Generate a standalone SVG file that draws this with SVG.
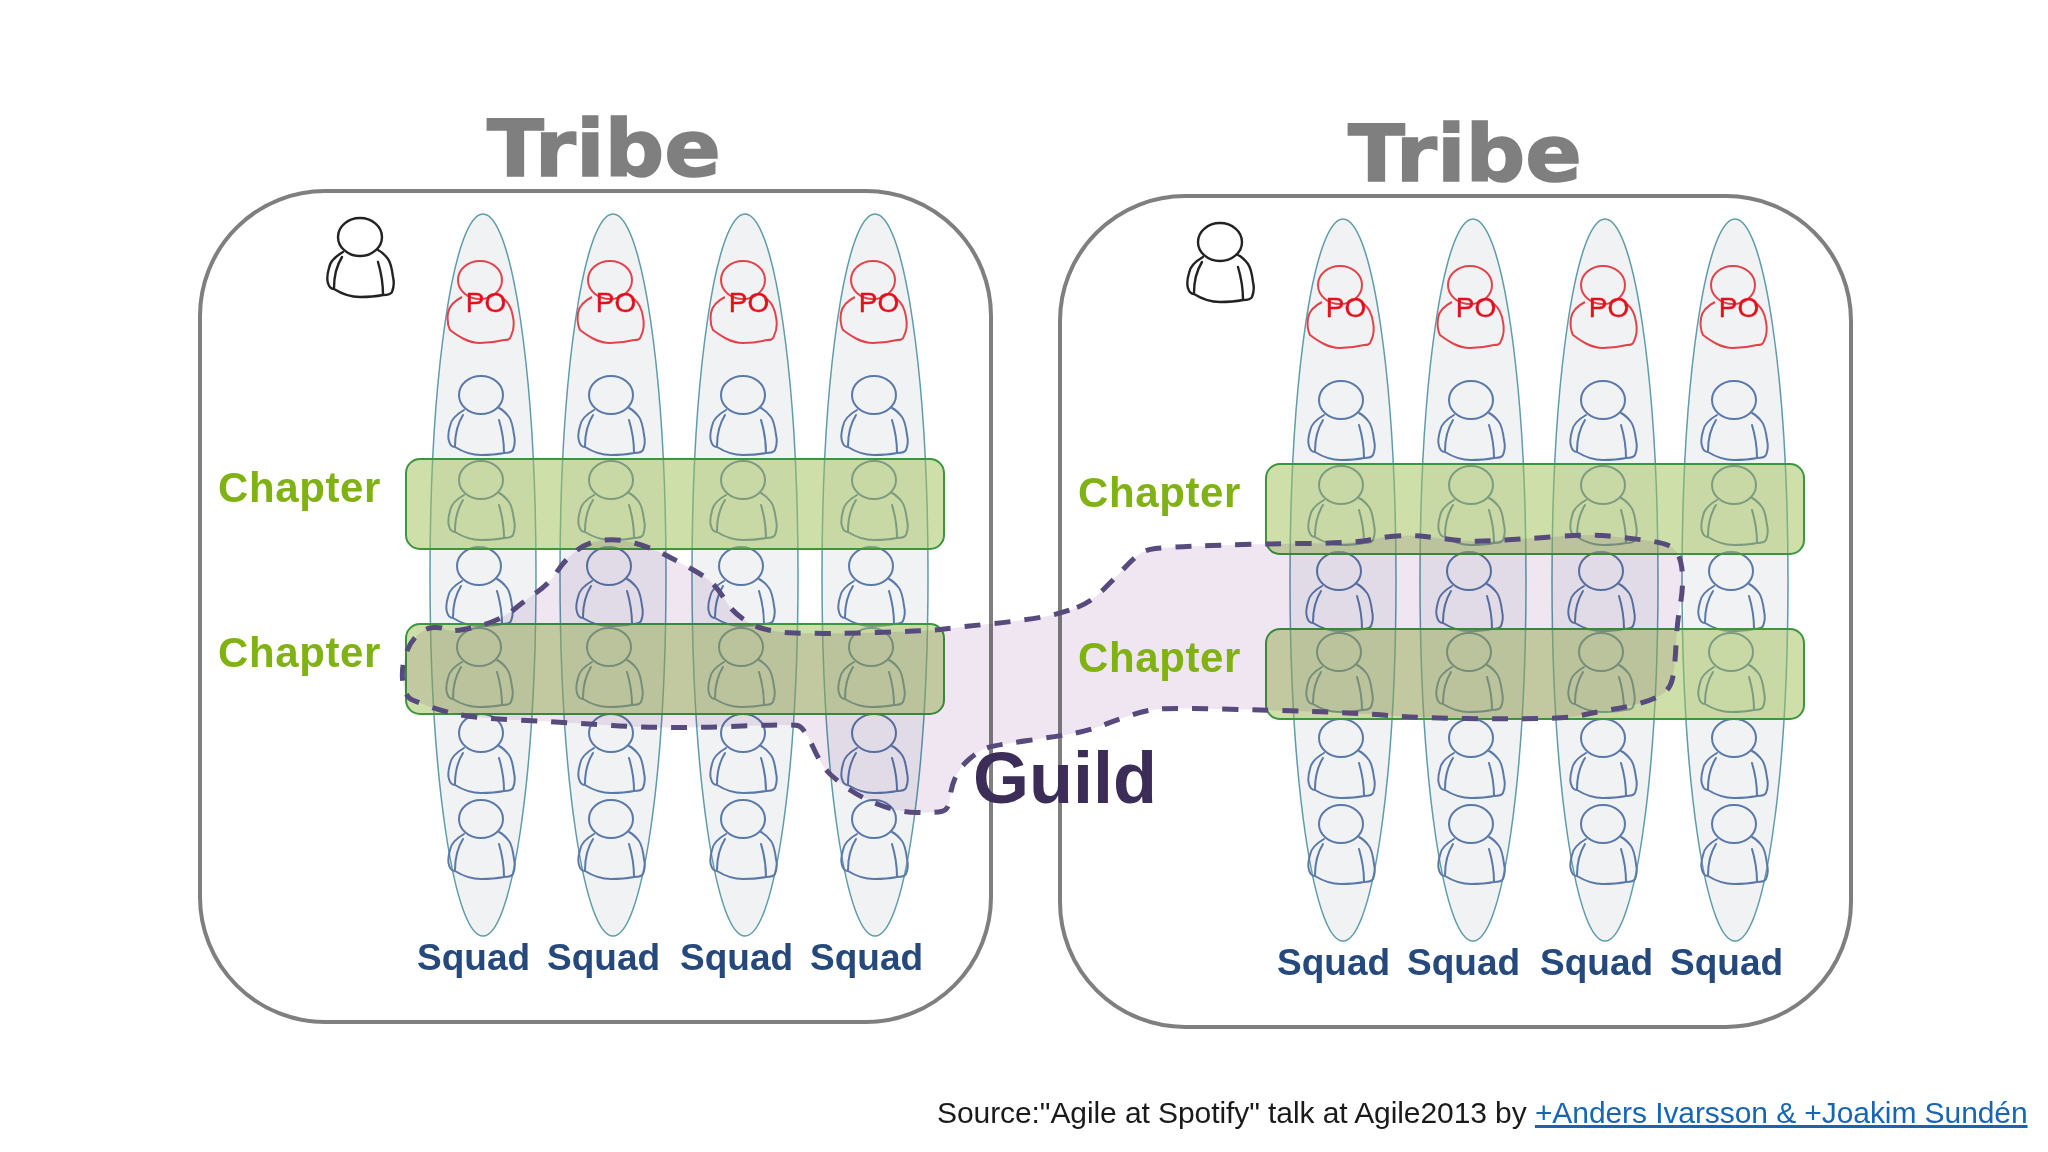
<svg xmlns="http://www.w3.org/2000/svg" width="2048" height="1152" viewBox="0 0 2048 1152">
<style>
text{font-family:"Liberation Sans",Arial,sans-serif}
.panel{fill:none;stroke:#7f7f7f;stroke-width:4}
.squad{fill:#f0f2f4;stroke:#5f9caa;stroke-width:1.5}
.bar{fill:#9fc055;fill-opacity:.5;stroke:#3c963c;stroke-width:2}
.tribe{font-family:"DejaVu Sans",sans-serif;font-weight:700;font-size:78px;fill:#7f7f7f;stroke:#7f7f7f;stroke-width:1.5}
.chapter{font-weight:700;font-size:42px;letter-spacing:.6px;fill:#80b213}
.sq{font-weight:700;font-size:37px;fill:#25497c}
.po{font-size:28px;fill:#e2101c;stroke:#e2101c;stroke-width:.4}
.pb{fill:none;stroke:#5a78a8;stroke-width:2;stroke-linejoin:round;stroke-linecap:round}
.pr{fill:none;stroke:#e2434a;stroke-width:2}
.pk{fill:none;stroke:#222;stroke-width:2.4;stroke-linejoin:round;stroke-linecap:round}
</style>
<defs>
<g id="p">
<ellipse cx="0" cy="0" rx="22" ry="19"/>
<path d="M-17,15C-24,19 -30,24 -31,31C-33,38 -33,43 -32,46C-31,50 -29,52 -26,52C-18,57 -8,60 0,60C10,60 18,59 23,58C28,58 31,57 32,55C34,50 34,44 33,40C32,32 31,26 28,22C25,18 22,15 18,13M-18,20C-23,28 -26,38 -26,51M18,25C21,35 23,46 23,58"/>
</g>
<g id="o">
<ellipse cx="0" cy="0" rx="22" ry="19"/>
<path d="M-18,17C-26,21 -31,27 -32,33C-33,40 -32,46 -30,50C-22,56 -12,63 0,63C10,63 20,61 24,60C27,60 30,60 31,56C34,50 34,42 33,37C32,30 30,24 24,19"/>
</g>
</defs>
<rect width="2048" height="1152" fill="#fff"/>

<g id="tribe-left">
<rect class="panel" x="200" y="191" width="791" height="831" rx="125"/>
<text class="tribe" x="487" y="176" textLength="234" lengthAdjust="spacingAndGlyphs">Tribe</text>
</g>
<g id="tribe-right">
<rect class="panel" x="1060" y="196" width="791" height="831" rx="125"/>
<text class="tribe" x="1348" y="181" textLength="234" lengthAdjust="spacingAndGlyphs">Tribe</text>
</g>

<g id="squads-left">
<ellipse class="squad" cx="483" cy="575" rx="53" ry="361"/>
<ellipse class="squad" cx="613" cy="575" rx="53" ry="361"/>
<ellipse class="squad" cx="745" cy="575" rx="53" ry="361"/>
<ellipse class="squad" cx="875" cy="575" rx="53" ry="361"/>
</g>
<g id="squads-right">
<ellipse class="squad" cx="1343" cy="580" rx="53" ry="361"/>
<ellipse class="squad" cx="1473" cy="580" rx="53" ry="361"/>
<ellipse class="squad" cx="1605" cy="580" rx="53" ry="361"/>
<ellipse class="squad" cx="1735" cy="580" rx="53" ry="361"/>
</g>

<g id="lead-left" class="pk"><use href="#p" x="360" y="237"/></g>
<g id="lead-right" class="pk"><use href="#p" x="1220" y="242"/></g>

<g id="po-left" class="pr">
<use href="#o" x="480" y="280"/><use href="#o" x="610" y="280"/><use href="#o" x="743" y="280"/><use href="#o" x="873" y="280"/>
</g>
<g id="po-right" class="pr">
<use href="#o" x="1340" y="285"/><use href="#o" x="1470" y="285"/><use href="#o" x="1603" y="285"/><use href="#o" x="1733" y="285"/>
</g>
<g id="po-labels">
<text class="po" x="486" y="312" text-anchor="middle">PO</text>
<text class="po" x="616" y="312" text-anchor="middle">PO</text>
<text class="po" x="749" y="312" text-anchor="middle">PO</text>
<text class="po" x="879" y="312" text-anchor="middle">PO</text>
<text class="po" x="1346" y="317" text-anchor="middle">PO</text>
<text class="po" x="1476" y="317" text-anchor="middle">PO</text>
<text class="po" x="1609" y="317" text-anchor="middle">PO</text>
<text class="po" x="1739" y="317" text-anchor="middle">PO</text>
</g>

<g id="members-left" class="pb">
<use href="#p" x="481" y="395"/><use href="#p" x="611" y="395"/><use href="#p" x="743" y="395"/><use href="#p" x="874" y="395"/>
<use href="#p" x="481" y="480"/><use href="#p" x="611" y="480"/><use href="#p" x="743" y="480"/><use href="#p" x="874" y="480"/>
<use href="#p" x="479" y="566"/><use href="#p" x="609" y="566"/><use href="#p" x="741" y="566"/><use href="#p" x="871" y="566"/>
<use href="#p" x="479" y="647"/><use href="#p" x="609" y="647"/><use href="#p" x="741" y="647"/><use href="#p" x="871" y="647"/>
<use href="#p" x="481" y="733"/><use href="#p" x="611" y="733"/><use href="#p" x="743" y="733"/><use href="#p" x="874" y="733"/>
<use href="#p" x="481" y="819"/><use href="#p" x="611" y="819"/><use href="#p" x="743" y="819"/><use href="#p" x="874" y="819"/>
</g>
<g id="members-right" class="pb">
<use href="#p" x="1341" y="400"/><use href="#p" x="1471" y="400"/><use href="#p" x="1603" y="400"/><use href="#p" x="1734" y="400"/>
<use href="#p" x="1341" y="485"/><use href="#p" x="1471" y="485"/><use href="#p" x="1603" y="485"/><use href="#p" x="1734" y="485"/>
<use href="#p" x="1339" y="571"/><use href="#p" x="1469" y="571"/><use href="#p" x="1601" y="571"/><use href="#p" x="1731" y="571"/>
<use href="#p" x="1339" y="652"/><use href="#p" x="1469" y="652"/><use href="#p" x="1601" y="652"/><use href="#p" x="1731" y="652"/>
<use href="#p" x="1341" y="738"/><use href="#p" x="1471" y="738"/><use href="#p" x="1603" y="738"/><use href="#p" x="1734" y="738"/>
<use href="#p" x="1341" y="824"/><use href="#p" x="1471" y="824"/><use href="#p" x="1603" y="824"/><use href="#p" x="1734" y="824"/>
</g>

<g id="chapters">
<rect class="bar" x="406" y="459" width="538" height="90" rx="14"/>
<rect class="bar" x="406" y="624" width="538" height="90" rx="14"/>
<rect class="bar" x="1266" y="464" width="538" height="90" rx="14"/>
<rect class="bar" x="1266" y="629" width="538" height="90" rx="14"/>
</g>

<g id="guild">
<path style="mix-blend-mode:multiply" fill="#efe6f2" stroke="none" d="M1077,607.5Q1091,602 1103.5,589.5Q1116,577 1124,568.5Q1132,560 1138,555Q1144,550 1155.5,548.5Q1167,547 1210.5,545.5Q1254,544 1305,543.5Q1356,543 1369,540Q1382,537 1397,536Q1412,535 1425,536.5Q1438,538 1454.5,540Q1471,542 1497.5,540.5Q1524,539 1557.5,536.5Q1591,534 1609,536Q1627,538 1643.5,540Q1660,542 1667.5,545Q1675,548 1678.5,555.5Q1682,563 1682.5,576.5Q1683,590 1680,606.5Q1677,623 1676,645Q1675,667 1672.5,678.5Q1670,690 1661,695Q1652,700 1639.5,703.5Q1627,707 1611.5,709.5Q1596,712 1583,715Q1570,718 1539.5,718.5Q1509,719 1465.5,718.5Q1422,718 1389,715.5Q1356,713 1312.5,711.5Q1269,710 1220.5,709Q1172,708 1159.5,709Q1147,710 1131.5,715Q1116,720 1103.5,725Q1091,730 1075.5,733Q1060,736 1028,740.5Q996,745 988,747.5Q980,750 970,758.5Q960,767 955.5,777Q951,787 950,798.5Q949,810 941.5,811.5Q934,813 916,812.5Q898,812 880,805Q862,798 851,790.5Q840,783 831,775Q822,767 813,747Q804,727 797.5,725.5Q791,724 728.5,726.5Q666,729 612.5,725.5Q559,722 516.5,720Q474,718 456,714Q438,710 429,706.5Q420,703 412.5,700Q405,697 403,683.5Q401,670 405,656.5Q409,643 417,635.5Q425,628 433.5,627.5Q442,627 445.5,629.5Q449,632 463.5,629.5Q478,627 491.5,622Q505,617 514,609.5Q523,602 536.5,592.5Q550,583 556.5,572.5Q563,562 574,552.5Q585,543 601,540.5Q617,538 634.5,543Q652,548 665.5,555Q679,562 692.5,569.5Q706,577 712.5,583.5Q719,590 726,601.5Q733,613 748.5,622.5Q764,632 795,633Q826,634 877.5,632.5Q929,631 944.5,629Q960,627 993.5,623.5Q1027,620 1045,616.5Q1063,613 1077,607.5Z"/>
<path fill="none" stroke="#574a7c" stroke-width="5" stroke-dasharray="16 14" d="M1077,607.5Q1091,602 1103.5,589.5Q1116,577 1124,568.5Q1132,560 1138,555Q1144,550 1155.5,548.5Q1167,547 1210.5,545.5Q1254,544 1305,543.5Q1356,543 1369,540Q1382,537 1397,536Q1412,535 1425,536.5Q1438,538 1454.5,540Q1471,542 1497.5,540.5Q1524,539 1557.5,536.5Q1591,534 1609,536Q1627,538 1643.5,540Q1660,542 1667.5,545Q1675,548 1678.5,555.5Q1682,563 1682.5,576.5Q1683,590 1680,606.5Q1677,623 1676,645Q1675,667 1672.5,678.5Q1670,690 1661,695Q1652,700 1639.5,703.5Q1627,707 1611.5,709.5Q1596,712 1583,715Q1570,718 1539.5,718.5Q1509,719 1465.5,718.5Q1422,718 1389,715.5Q1356,713 1312.5,711.5Q1269,710 1220.5,709Q1172,708 1159.5,709Q1147,710 1131.5,715Q1116,720 1103.5,725Q1091,730 1075.5,733Q1060,736 1028,740.5Q996,745 988,747.5Q980,750 970,758.5Q960,767 955.5,777Q951,787 950,798.5Q949,810 941.5,811.5Q934,813 916,812.5Q898,812 880,805Q862,798 851,790.5Q840,783 831,775Q822,767 813,747Q804,727 797.5,725.5Q791,724 728.5,726.5Q666,729 612.5,725.5Q559,722 516.5,720Q474,718 456,714Q438,710 429,706.5Q420,703 412.5,700Q405,697 403,683.5Q401,670 405,656.5Q409,643 417,635.5Q425,628 433.5,627.5Q442,627 445.5,629.5Q449,632 463.5,629.5Q478,627 491.5,622Q505,617 514,609.5Q523,602 536.5,592.5Q550,583 556.5,572.5Q563,562 574,552.5Q585,543 601,540.5Q617,538 634.5,543Q652,548 665.5,555Q679,562 692.5,569.5Q706,577 712.5,583.5Q719,590 726,601.5Q733,613 748.5,622.5Q764,632 795,633Q826,634 877.5,632.5Q929,631 944.5,629Q960,627 993.5,623.5Q1027,620 1045,616.5Q1063,613 1077,607.5Z"/>
<text x="973" y="803" font-size="72" font-weight="700" fill="#3b2d58">Guild</text>
</g>

<g id="chapter-labels">
<text class="chapter" x="218" y="502">Chapter</text>
<text class="chapter" x="218" y="667">Chapter</text>
<text class="chapter" x="1078" y="507">Chapter</text>
<text class="chapter" x="1078" y="672">Chapter</text>
</g>
<g id="squad-labels">
<text class="sq" x="417" y="970">Squad</text>
<text class="sq" x="547" y="970">Squad</text>
<text class="sq" x="680" y="970">Squad</text>
<text class="sq" x="810" y="970">Squad</text>
<text class="sq" x="1277" y="975">Squad</text>
<text class="sq" x="1407" y="975">Squad</text>
<text class="sq" x="1540" y="975">Squad</text>
<text class="sq" x="1670" y="975">Squad</text>
</g>
<text id="source" x="937" y="1123" font-size="30" letter-spacing="-.08" fill="#1a1a1a">Source:"Agile at Spotify" talk at Agile2013 by <tspan fill="#1766b5" text-decoration="underline">+Anders Ivarsson &amp; +Joakim Sundén</tspan></text>
</svg>
